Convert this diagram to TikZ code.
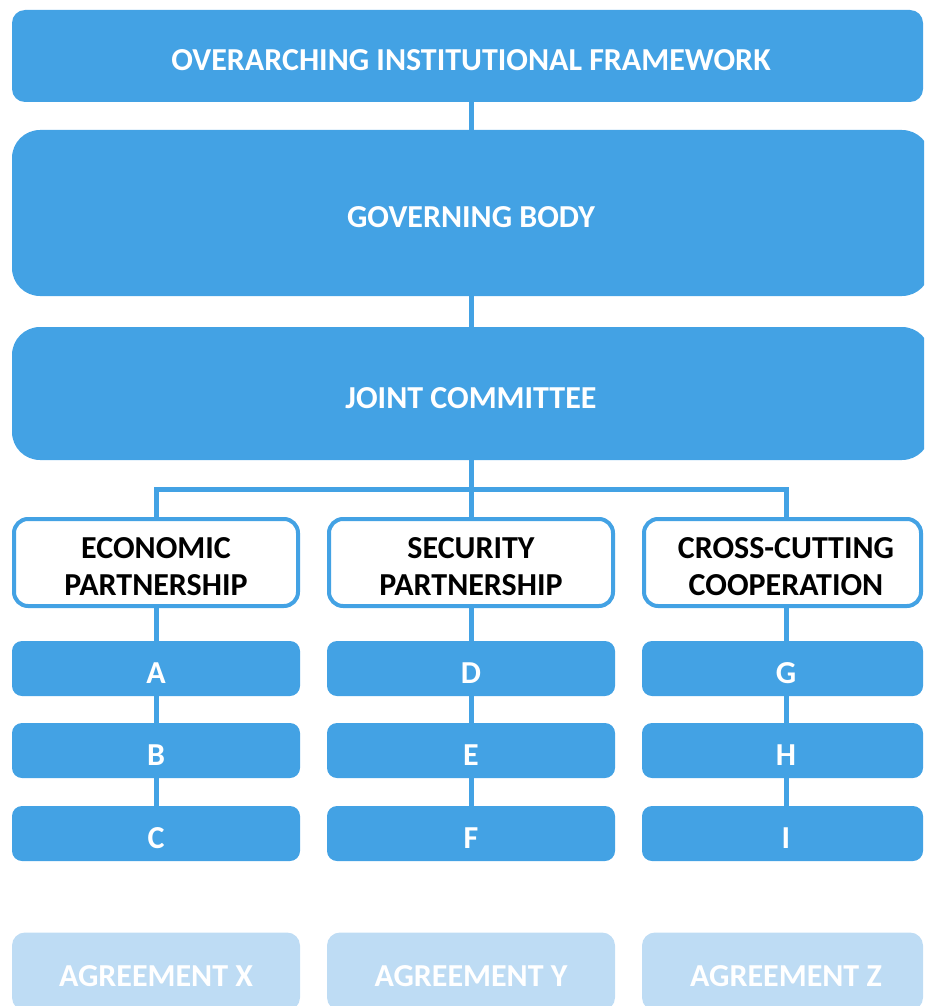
\documentclass[tikz,border=0pt]{standalone}
\usepackage{fontspec}
\setmainfont{Carlito}
\definecolor{cblue}{RGB}{67,162,228}
\definecolor{clight}{RGB}{190,220,244}
\tikzset{
  txt/.style={font=\bfseries\fontsize{32}{37}\selectfont},
  oneline/.style={text height=29pt, text depth=0pt},
  twoline/.style={text height=65pt, text depth=0pt},
  bigbox/.style={txt, oneline, fill=cblue, text=white, inner sep=0pt, anchor=center},
  partbox/.style={txt, twoline, draw=cblue, line width=4pt, fill=white, text=black, inner sep=0pt,
                  rounded corners=14pt, minimum width=284pt, minimum height=87pt, align=center},
  letterbox/.style={txt, oneline, fill=cblue, text=white, inner sep=0pt, rounded corners=10pt,
                  minimum height=55pt},
  agreebox/.style={txt, oneline, fill=clight, text=white, inner sep=0pt, rounded corners=13pt,
                  minimum height=78pt},
  conn/.style={draw=cblue, line width=5pt},
}
\begin{document}
\begin{tikzpicture}[x=1pt,y=-1pt]
\useasboundingbox (0,0) rectangle (924,1006);
\clip (0,0) rectangle (924,1006);
% top levels
\node[bigbox, rounded corners=13pt, minimum width=911pt, minimum height=92pt] (top) at (467.5,56)
  {\hspace*{7pt}OVERARCHING INSTITUTIONAL FRAMEWORK};
\node[bigbox, rounded corners=28pt, minimum width=918pt, minimum height=166pt] (gov) at (471,213)
  {GOVERNING BODY};
\node[bigbox, rounded corners=28pt, minimum width=918pt, minimum height=133pt] (jc) at (471,393.5)
  {JOINT COMMITTEE};
% partnerships
\node[partbox] (econ) at (156,562.5) {ECONOMIC\\PARTNERSHIP};
\node[partbox] (sec) at (471,562.5) {SECURITY\\PARTNERSHIP};
\node[partbox, minimum width=277pt] (cross) at (782.5,562.5) {\hspace*{7pt}CROSS-CUTTING\\\hspace*{7pt}COOPERATION};
% letter boxes
\foreach \n/\x/\w/\s in {A/156/288/0, D/471/288/0, G/782.5/281/7}{
  \node[letterbox, minimum width=\w pt] (\n) at (\x,668.5) {\hspace*{\s pt}\n};
}
\foreach \n/\x/\w/\s in {B/156/288/0, E/471/288/0, H/782.5/281/7}{
  \node[letterbox, minimum width=\w pt] (\n) at (\x,750.5) {\hspace*{\s pt}\n};
}
\foreach \n/\x/\w/\s in {C/156/288/0, F/471/288/0, I/782.5/281/7}{
  \node[letterbox, minimum width=\w pt] (\n) at (\x,833.5) {\hspace*{\s pt}\n};
}
% agreements
\node[agreebox, minimum width=288pt] (ax) at (156,971.5) {AGREEMENT X};
\node[agreebox, minimum width=288pt] (ay) at (471,971.5) {AGREEMENT Y};
\node[agreebox, minimum width=281pt] (az) at (782.5,971.5) {\hspace*{7pt}AGREEMENT Z};
% connectors
\draw[conn] (gov.north) -- (gov.north |- top.south);
\draw[conn] (jc.north) -- (jc.north |- gov.south);
\draw[conn] (jc.south) -- (sec.north);
\coordinate (bar) at (471,489);
\coordinate (crosstop) at ([xshift=3.5pt]cross.north);
\draw[conn] (econ.north) |- (bar) -| (crosstop);
\draw[conn] (econ.south) -- (A.north);
\draw[conn] (A.south) -- (B.north);
\draw[conn] (B.south) -- (C.north);
\draw[conn] (sec.south) -- (D.north);
\draw[conn] (D.south) -- (E.north);
\draw[conn] (E.south) -- (F.north);
\draw[conn] ([xshift=3.5pt]cross.south) -- ([xshift=3.5pt]G.north);
\draw[conn] ([xshift=3.5pt]G.south) -- ([xshift=3.5pt]H.north);
\draw[conn] ([xshift=3.5pt]H.south) -- ([xshift=3.5pt]I.north);
\end{tikzpicture}
\end{document}
